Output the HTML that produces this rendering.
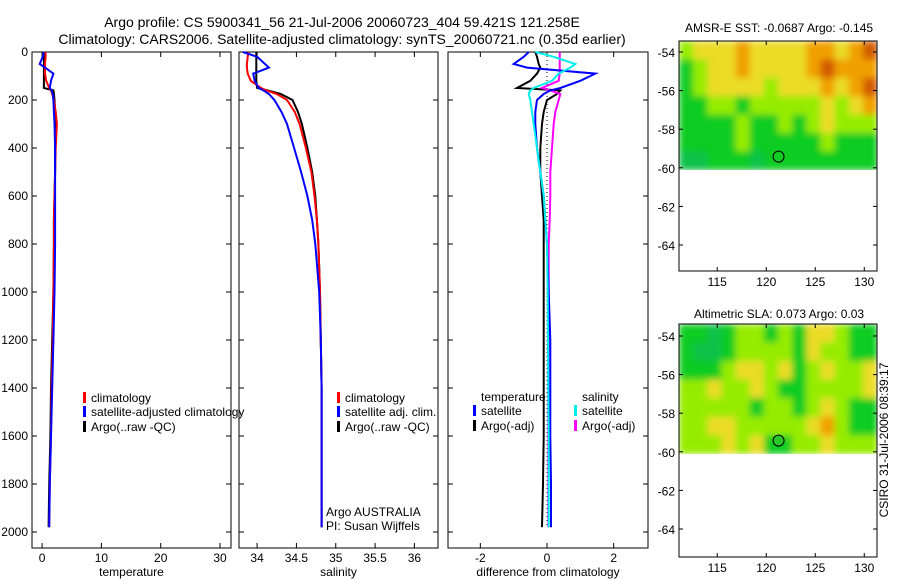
<!DOCTYPE html>
<html><head><meta charset="utf-8"><style>
body{margin:0;background:#fff;}
svg{display:block;font-family:"Liberation Sans",sans-serif;}
</style></head><body>
<svg id="c" width="900" height="580" viewBox="0 0 900 580">
<text x="342" y="27" font-size="14" text-anchor="middle">Argo profile: CS 5900341_56 21-Jul-2006 20060723_404 59.421S 121.258E</text>
<text x="342" y="44" font-size="14" text-anchor="middle">Climatology: CARS2006. Satellite-adjusted climatology: synTS_20060721.nc (0.35d earlier)</text>
<text x="779" y="32" font-size="12" text-anchor="middle">AMSR-E SST: -0.0687 Argo: -0.145</text>
<text x="779" y="318" font-size="12" text-anchor="middle">Altimetric SLA: 0.073 Argo: 0.03</text>
<text transform="translate(888,440) rotate(-90)" font-size="12" text-anchor="middle">CSIRO 31-Jul-2006 08:39:17</text>
</svg>
<script>
const depths=[0,20,50,65,90,120,150,160,175,200,250,300,400,500,600,700,800,1000,1200,1400,1600,1800,1980];
const tempClim=[0.6,0.6,0.5,0.5,0.5,0.7,1.2,1.5,1.7,2.0,2.3,2.5,2.3,2.2,2.1,2.0,2.0,1.9,1.8,1.6,1.5,1.3,1.2];
const tempSat=[0.3,0.1,-0.4,0.5,1.9,1.5,1.3,1.6,1.8,1.9,2.0,2.1,2.2,2.2,2.2,2.2,2.2,2.1,1.9,1.7,1.5,1.3,1.2];
const tempArgo=[0.3,0.3,0.3,0.3,0.3,0.3,0.3,1.9,2.0,2.1,2.2,2.2,2.2,2.2,2.1,2.0,2.0,1.9,1.7,1.5,1.4,1.2,1.1];
const salClim=[33.89,33.88,33.87,33.87,33.88,33.92,34.05,34.12,34.25,34.38,34.48,34.54,34.62,34.69,34.73,34.76,34.78,34.8,34.81,34.82,34.82,34.82,34.82];
const salSat=[33.82,34.0,34.1,34.15,33.95,33.97,34.02,34.08,34.15,34.22,34.31,34.38,34.47,34.56,34.64,34.7,34.74,34.79,34.81,34.82,34.82,34.82,34.82];
const salArgo=[33.99,33.99,33.99,33.99,33.99,33.99,34.0,34.13,34.3,34.45,34.52,34.57,34.64,34.7,34.74,34.76,34.78,34.8,34.81,34.82,34.82,34.82,34.82];
const dTempSat=[-0.55,-0.7,-1.0,-0.6,1.45,1.0,0.4,0.1,-0.1,-0.3,-0.35,-0.35,-0.3,-0.2,-0.1,-0.05,0,0.05,0.1,0.1,0.1,0.12,0.12];
const dTempArgo=[-0.35,-0.3,-0.25,-0.2,-0.3,-0.5,-0.9,0.4,0.3,0.0,-0.1,-0.15,-0.2,-0.2,-0.15,-0.1,-0.1,-0.1,-0.1,-0.1,-0.1,-0.12,-0.15];
const dSalSat=[-0.35,0.2,0.85,0.7,0.35,0.15,-0.4,-0.5,-0.55,-0.5,-0.45,-0.4,-0.3,-0.2,-0.1,-0.05,0,0.02,0.03,0.04,0.05,0.05,0.05];
const dSalArgo=[0.38,0.38,0.38,0.38,0.38,0.35,-0.15,0.1,0.4,0.35,0.25,0.2,0.15,0.1,0.1,0.08,0.05,0.05,0.04,0.04,0.04,0.04,0.04];
const depthTicks=[0,200,400,600,800,1000,1200,1400,1600,1800,2000];
const tempTicks=[0,10,20,30];
const salTicks=[34,34.5,35,35.5,36];
const diffTicks=[-2,0,2];
const latTicks=[-54,-56,-58,-60,-62,-64];
const lonTicks=[115,120,125,130];
const sstGrid=[
[2,3,3,3,4,3,3,3,3,4,4,3,4,5],
[1,2,3,3,4,3,3,3,3,4,5,4,4,4],
[1,2,3,3,3,3,2,3,3,3,4,3,4,5],
[1,1,2,2,1,2,2,2,2,2,3,2,3,4],
[1,1,1,1,2,1,1,2,1,2,3,2,2,2],
[1,1,1,1,2,1,1,1,1,1,2,1,1,1],
[0.5,0.5,1,1,1,0.5,1,1,1,1,1,1,1,1]];
const slaGrid=[
[1,1,0.5,1,2,2,1,2,1,3,3,2,1,1],
[1,0.5,0.5,1,2,2,2,2,1,3,2,2,1,1],
[1,1,1,2,3,3,2,3,1,2,3,2,2,3],
[2,2,3,2,2,3,2,1,1,2,2,2,2,3],
[2,2,2,2,2,1,2,2,1,2,3,2,1,1],
[2,2,3,3,2,2,2,2,2,3,4,2,1,1],
[2,2,2,3,2,3,1,1,2,2,3,2,2,2]];
const argoLon=121.258, argoLat=-59.421;

const NS='http://www.w3.org/2000/svg';
const svg=document.getElementById('c');
function el(tag,attrs,parent){const e=document.createElementNS(NS,tag);for(const k in attrs)e.setAttribute(k,attrs[k]);(parent||svg).appendChild(e);return e;}
function txt(x,y,s,size,anchor,parent){const t=el('text',{x:x,y:y,'font-size':size,'text-anchor':anchor||'start'},parent);t.textContent=s;return t;}

const Y0=52, DS=0.24, PB=548;
const yD=d=>Y0+d*DS;

function panel(name,L,R,xmin,xmax,xticks,xlabel,showY){
  const g=el('g',{});
  
  
  const xs=v=>L+(v-xmin)/(xmax-xmin)*(R-L);
  el('rect',{x:L,y:Y0,width:R-L,height:PB-Y0,fill:'none',stroke:'#000','stroke-width':1},g);
  depthTicks.forEach(d=>{const y=yD(d);
    el('line',{x1:L,x2:L+5,y1:y,y2:y,stroke:'#000'},g);el('line',{x1:R-5,x2:R,y1:y,y2:y,stroke:'#000'},g);
    if(showY){const t=txt(L-4,y+4,String(d),12,'end',g);}
  });
  xticks.forEach(v=>{const x=xs(v);
    el('line',{x1:x,x2:x,y1:Y0,y2:Y0+5,stroke:'#000'},g);el('line',{x1:x,x2:x,y1:PB-5,y2:PB,stroke:'#000'},g);
    const t=txt(x,PB+14,String(v),12,'middle',g);
  });
  const xl=txt((L+R)/2,PB+28,xlabel,12,'middle',g);
  
  
  return {g,xs};
}
function line(p,vals,color,name,dash){
  const pts=vals.map((v,i)=>p.xs(v).toFixed(1)+','+yD(depths[i]).toFixed(1)).join(' ');
  const l=el('polyline',{points:pts,fill:'none',stroke:color,'stroke-width':dash?1:2,'stroke-dasharray':dash||'none'},p.g);
  
  
}
function legend(x,y,color,label,g){
  if(color){const b=el('rect',{x:x,y:y-10,width:3,height:11,fill:color},g);}
  const t=txt(x+8,y,label,12,'start',g);
  
  
}

const p1=panel('temperature-panel',32,231,-1.7,31.85,tempTicks,'temperature',true);
line(p1,tempArgo,'#000','temp-argo-line');
line(p1,tempClim,'#f00','temp-climatology-line');
line(p1,tempSat,'#00f','temp-satellite-line');
legend(83,402,'#f00','climatology',svg);
legend(83,416,'#00f','satellite-adjusted climatology',svg);
legend(83,431,'#000','Argo(..raw -QC)',svg);

const p2=panel('salinity-panel',239,438,33.77,36.3,salTicks,'salinity',false);
line(p2,salArgo,'#000','sal-argo-line');
line(p2,salClim,'#f00','sal-climatology-line');
line(p2,salSat,'#00f','sal-satellite-line');
legend(337,402,'#f00','climatology',p2.g);
legend(337,416,'#00f','satellite adj. clim.',p2.g);
legend(337,431,'#000','Argo(..raw -QC)',p2.g);
const a1=txt(326,516,'Argo AUSTRALIA',12,'start',p2.g);
const a2=txt(326,530,'PI: Susan Wijffels',12,'start',p2.g);

const p3=panel('difference-panel',448,648,-2.97,3.03,diffTicks,'difference from climatology',false);
line(p3,depths.map(()=>0),'#000','zero-line','1,3');
line(p3,dTempArgo,'#000','diff-temp-argo-line');
line(p3,dSalArgo,'#f0f','diff-sal-argo-line');
line(p3,dTempSat,'#00f','diff-temp-satellite-line');
line(p3,dSalSat,'#0ee','diff-sal-satellite-line');
legend(473,401,null,'temperature',p3.g);
legend(473,415,'#00f','satellite',p3.g);
legend(473,430,'#000','Argo(-adj)',p3.g);
legend(574,401,null,'salinity',p3.g);
legend(574,415,'#0ee','satellite',p3.g);
legend(574,430,'#f0f','Argo(-adj)',p3.g);

const stops=[[0,[16,184,112]],[1,[16,204,32]],[2,[150,236,0]],[3,[235,220,40]],[4,[240,160,0]],[5,[210,90,0]]];
function col(v){for(let i=0;i<stops.length-1;i++){const [a,ca]=stops[i],[b,cb]=stops[i+1];if(v<=b){const t=(v-a)/(b-a);return 'rgb('+ca.map((c,k)=>Math.round(c+(cb[k]-c)*t)).join(',')+')';}}return 'rgb(210,90,0)';}

const defs=el('defs',{});
function map(name,T,B,y54,grid,fillCircle,id){
  const L=679,R=877,lonMin=111.1,lonMax=131.3;
  const g=el('g',{});
  
  
  const xs=v=>L+(v-lonMin)/(lonMax-lonMin)*(R-L);
  const ys=v=>y54+(-54-v)*19.3;
  const latTop=-54+(y54-T)/19.3, latBot=-60.1;
  const yb=ys(latBot);
  const f=el('filter',{id:'f'+id,filterUnits:'userSpaceOnUse',x:L,y:T,width:R-L,height:yb-T},defs);
  el('feGaussianBlur',{stdDeviation:3.5,edgeMode:'duplicate'},f);
  const cg=el('g',{filter:'url(#f'+id+')'},g);
  const nr=grid.length,nc=grid[0].length;
  const cw=(lonMax-lonMin)/nc, rh=(latTop-latBot)/nr;
  grid.forEach((row,r)=>row.forEach((v,c)=>{
    const x0=xs(lonMin+c*cw),x1=xs(lonMin+(c+1)*cw),y0=ys(latTop-r*rh),y1=ys(latTop-(r+1)*rh);
    const cell=el('rect',{x:x0.toFixed(1),y:y0.toFixed(1),width:(x1-x0+0.6).toFixed(1),height:(y1-y0+0.6).toFixed(1),fill:col(v)},cg);
    
    
  }));
  el('rect',{x:L,y:T,width:R-L,height:B-T,fill:'none',stroke:'#000'},g);
  latTicks.forEach(v=>{const y=ys(v);el('line',{x1:L,x2:L+4,y1:y,y2:y,stroke:'#000'},g);el('line',{x1:R-4,x2:R,y1:y,y2:y,stroke:'#000'},g);
    const t=txt(L-4,y+5,String(v),12,'end',g);});
  lonTicks.forEach(v=>{const x=xs(v);el('line',{x1:x,x2:x,y1:T,y2:T+4,stroke:'#000'},g);el('line',{x1:x,x2:x,y1:B-4,y2:B,stroke:'#000'},g);
    const t=txt(x,B+15,String(v),12,'middle',g);});
  const c=el('circle',{cx:xs(argoLon),cy:ys(argoLat),r:5.5,fill:fillCircle?'rgb(40,200,40)':'none',stroke:'#000'},g);
  
  
}
map('sst-map',41,271,52,sstGrid,false,1);
map('sla-map',324,557,336,slaGrid,true,2);
</script>
</body></html>
